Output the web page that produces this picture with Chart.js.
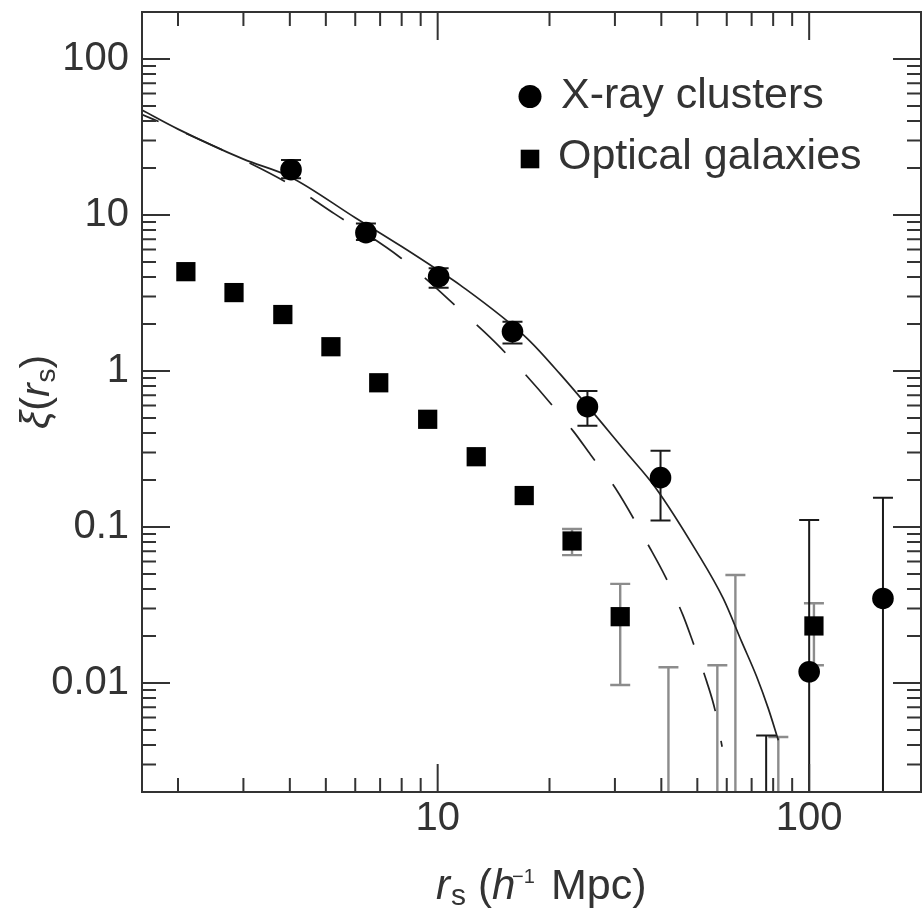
<!DOCTYPE html>
<html>
<head>
<meta charset="utf-8">
<script src="https://cdn.jsdelivr.net/npm/chart.js@4/dist/chart.umd.min.js"></script>
<style>
html,body{margin:0;padding:0;background:#fff;}
#wrap{width:922px;height:909px;position:relative;}
</style>
</head>
<body>
<div id="wrap"><canvas id="c" width="922" height="909"></canvas></div>
<script>
// ---------- data ----------
// X-ray clusters (filled circles)
const xrayR   = [4.03, 6.41, 10.06, 15.9, 25.3, 39.8, 100, 158];
const xrayXi  = [19.5, 7.70, 4.02, 1.79, 0.59, 0.207, 0.0118, 0.0348];
const xrayHi  = [22.5, 8.83, 4.55, 2.07, 0.745, 0.308, 0.111, 0.154];
const xrayLo  = [17.2, 6.92, 3.42, 1.50, 0.446, 0.110, null, null]; // null: bar runs below the axis
// X-ray upper-limit bars whose point lies below the axis
const xrayLimR  = [76.6];
const xrayLimHi = [0.0046];

// Optical galaxies (filled squares)
const galR  = [2.10, 2.83, 3.83, 5.16, 6.94, 9.40, 12.7, 17.1, 23.0, 31.0, 103];
const galXi = [4.33, 3.18, 2.30, 1.43, 0.84, 0.49, 0.282, 0.159, 0.0813, 0.0266, 0.0232];
const galHi = [null, null, null, null, null, null, null, null, 0.097, 0.0432, 0.0324];
const galLo = [null, null, null, null, null, null, null, null, 0.066, 0.0097, 0.013];
// galaxy upper-limit bars whose point lies below the axis
const galLimR  = [41.8, 56.6, 63.3, 82.6];
const galLimHi = [0.0126, 0.013, 0.0492, 0.0045];

// model curves
const solidR  = [1.6, 2.0, 3.0, 4.0, 6.0, 8.0, 10.0, 11.5, 17.4, 21.4, 32.3, 38.5, 49.8, 58.7, 65.8, 72.2, 77.6, 82.6];
const solidXi = [47, 35.5, 22.8, 17.6, 9.6, 6.27, 4.44, 3.55, 1.62, 0.95, 0.298, 0.18, 0.0695, 0.0348, 0.0184, 0.0110, 0.00687, 0.0043];
const dashR   = [1.6, 2.0, 3.0, 4.0, 5.27, 7.96, 11.5, 14.8, 23.2, 25.8, 30.1, 37.3, 41.0, 45.7, 48.8, 53.0, 55.8, 58.3];
const dashXi  = [44, 35.1, 22.5, 15.7, 10.2, 5.3, 2.46, 1.40, 0.41, 0.29, 0.177, 0.073, 0.048, 0.0273, 0.0179, 0.0102, 0.0067, 0.0039];

// axes
const xMin = 1.6, xMax = 200;
const yMin = 0.002, yMax = 200;
const xTickVals   = [10, 100];
const xTickLabels = ['10', '100'];
const yTickVals   = [0.01, 0.1, 1, 10, 100];
const yTickLabels = ['0.01', '0.1', '1', '10', '100'];
const minorMantissas = [2, 3, 4, 5, 6, 7, 8, 9];
const xDecades = [1, 10, 100];
const yDecades = [0.001, 0.01, 0.1, 1, 10, 100];

const seriesLabels = ['X-ray clusters', 'Optical galaxies'];

// ---------- styling ----------
const FONT = "'Liberation Sans', Arial, Helvetica, sans-serif";
const INK = '#333333';
const GREY = '#8c8c8c';

function inRange(v, lo, hi) { return v >= lo * 0.9999 && v <= hi * 1.0001; }
const xMinor = [], yMinor = [];
xDecades.forEach(d => minorMantissas.forEach(m => { const v = +(m * d).toPrecision(6); if (inRange(v, xMin, xMax)) xMinor.push(v); }));
yDecades.forEach(d => minorMantissas.forEach(m => { const v = +(m * d).toPrecision(6); if (inRange(v, yMin, yMax)) yMinor.push(v); }));

const toXY = (xs, ys) => xs.map((v, i) => ({ x: v, y: ys[i] }));
const noPad = s => { s.paddingTop = 0; s.paddingBottom = 0; s.paddingLeft = 0; s.paddingRight = 0; };

const overlay = {
  id: 'overlay',
  beforeDatasetsDraw(chart) {
    const { ctx, chartArea: a, scales: { x, y } } = chart;
    ctx.save();
    ctx.beginPath();
    ctx.rect(a.left, a.top, a.right - a.left, a.bottom - a.top);
    ctx.clip();
    const bar = (r, lo, hi, color, w, cap) => {
      const px = x.getPixelForValue(r);
      const yTop = y.getPixelForValue(hi);
      const yBot = lo == null ? a.bottom + 4 : y.getPixelForValue(lo);
      ctx.strokeStyle = color; ctx.lineWidth = w; ctx.lineCap = 'butt';
      ctx.beginPath();
      ctx.moveTo(px, yTop); ctx.lineTo(px, yBot);
      ctx.moveTo(px - cap / 2, yTop); ctx.lineTo(px + cap / 2, yTop);
      if (lo != null) { ctx.moveTo(px - cap / 2, yBot); ctx.lineTo(px + cap / 2, yBot); }
      ctx.stroke();
    };
    galR.forEach((r, i) => { if (galHi[i] != null) bar(r, galLo[i], galHi[i], GREY, 2.4, 20); });
    galLimR.forEach((r, i) => bar(r, null, galLimHi[i], GREY, 2.4, 20));
    xrayR.forEach((r, i) => bar(r, xrayLo[i], xrayHi[i], '#1a1a1a', 2, 20));
    xrayLimR.forEach((r, i) => bar(r, null, xrayLimHi[i], '#1a1a1a', 2, 20));
    ctx.restore();
  },
  afterDraw(chart) {
    const { ctx, chartArea: a, scales: { x, y } } = chart;
    ctx.save();
    // frame
    ctx.strokeStyle = INK; ctx.lineWidth = 2;
    ctx.strokeRect(a.left, a.top, a.right - a.left, a.bottom - a.top);
    // inward ticks on all four sides
    const MAJ = 28, MIN = 14;
    ctx.beginPath();
    const xt = (v, len) => { const p = x.getPixelForValue(v);
      ctx.moveTo(p, a.bottom); ctx.lineTo(p, a.bottom - len);
      ctx.moveTo(p, a.top); ctx.lineTo(p, a.top + len); };
    const yt = (v, len) => { const p = y.getPixelForValue(v);
      ctx.moveTo(a.left, p); ctx.lineTo(a.left + len, p);
      ctx.moveTo(a.right, p); ctx.lineTo(a.right - len, p); };
    xTickVals.forEach(v => xt(v, MAJ)); xMinor.forEach(v => xt(v, MIN));
    yTickVals.forEach(v => yt(v, MAJ)); yMinor.forEach(v => yt(v, MIN));
    ctx.stroke();

    // legend
    const ds = chart.data.datasets;
    ctx.fillStyle = '#000';
    ctx.beginPath(); ctx.arc(530, 96.5, 11.5, 0, Math.PI * 2); ctx.fill();
    ctx.fillRect(530 - 9.3, 159 - 9.3, 18.6, 18.6);
    ctx.fillStyle = INK;
    ctx.font = `43px ${FONT}`;
    ctx.textAlign = 'left'; ctx.textBaseline = 'alphabetic';
    ctx.fillText(ds[0].label, 561, 108);
    ctx.fillText(ds[1].label, 558, 168.5);

    // x-axis title: r_s (h^-1 Mpc)
    const base = 899;
    const piece = (t, px, py, font) => { ctx.font = font; ctx.fillText(t, px, py); };
    piece('r', 436, base, `italic 42px ${FONT}`);
    piece('s', 451, base + 6, `30px ${FONT}`);
    piece('(', 478, base, `42px ${FONT}`);
    piece('h', 492, base, `italic 42px ${FONT}`);
    piece('\u22121', 512, base - 16, `20px ${FONT}`);
    piece('Mpc)', 551, base, `43px ${FONT}`);

    // y-axis title: ξ(r_s), rotated
    ctx.save();
    ctx.translate(49, 429);
    ctx.rotate(-Math.PI / 2);
    let cx = 0;
    const seq = [
      ['\u03BE', `italic 41px ${FONT}`, 0],
      ['(', `41px ${FONT}`, 0],
      ['r', `italic 41px ${FONT}`, 0],
      ['s', `28px ${FONT}`, 6],
      [')', `41px ${FONT}`, 0]
    ];
    seq.forEach(([t, f, dy]) => { ctx.font = f; ctx.fillText(t, cx, dy); cx += ctx.measureText(t).width + (t === 'r' ? 1 : 0); });
    ctx.restore();

    ctx.restore();
  }
};

const chart = new Chart(document.getElementById('c'), {
  type: 'scatter',
  data: {
    datasets: [
      { label: seriesLabels[0], data: toXY(xrayR, xrayXi), pointStyle: 'circle', pointRadius: 10.8,
        backgroundColor: '#000', borderColor: '#000', borderWidth: 0, pointBorderWidth: 0, showLine: false, order: 1 },
      { label: seriesLabels[1], data: toXY(galR, galXi), pointStyle: 'rect', pointRadius: 13.6,
        backgroundColor: '#000', borderColor: '#000', borderWidth: 0, pointBorderWidth: 0, showLine: false, order: 1 },
      { label: 'model (solid)', type: 'line', data: toXY(solidR, solidXi), borderColor: '#222', borderWidth: 1.7,
        pointRadius: 0, fill: false, cubicInterpolationMode: 'monotone', order: 3 },
      { label: 'model (dashed)', type: 'line', data: toXY(dashR, dashXi), borderColor: '#222', borderWidth: 1.7,
        borderDash: [40, 30], borderDashOffset: 22, pointRadius: 0, fill: false, cubicInterpolationMode: 'monotone', order: 3 }
    ]
  },
  options: {
    responsive: false,
    devicePixelRatio: 1,
    animation: false,
    layout: { autoPadding: false, padding: { top: 12, right: 1, left: 0, bottom: 0 } },
    plugins: { legend: { display: false }, tooltip: { enabled: false } },
    scales: {
      x: {
        type: 'logarithmic', min: xMin, max: xMax, position: 'bottom',
        grid: { display: false, drawTicks: false }, border: { display: false },
        afterBuildTicks: s => { s.ticks = xTickVals.map(v => ({ value: v })); },
        afterFit: s => { s.height = 117; noPad(s); },
        ticks: { autoSkip: false, maxRotation: 0, padding: 3, color: INK,
          font: { family: FONT, size: 40 },
          callback: (v, i) => xTickLabels[i] }
      },
      y: {
        type: 'logarithmic', min: yMin, max: yMax,
        grid: { display: false, drawTicks: false }, border: { display: false },
        afterBuildTicks: s => { s.ticks = yTickVals.map(v => ({ value: v })); },
        afterFit: s => { s.width = 142; noPad(s); },
        ticks: { autoSkip: false, padding: 13, color: INK,
          font: { family: FONT, size: 40 },
          callback: (v, i) => yTickLabels[i] }
      }
    }
  },
  plugins: [overlay]
});
</script>
</body>
</html>
